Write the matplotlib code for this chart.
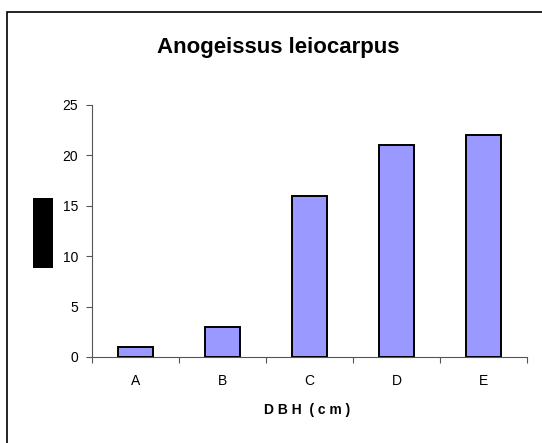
import matplotlib
matplotlib.use("Agg")
import matplotlib.pyplot as plt
from matplotlib.patches import Rectangle

categories = ["A", "B", "C", "D", "E"]
values = [1, 3, 16, 21, 22]
yticks = [0, 5, 10, 15, 20, 25]

plt.rcParams['font.family'] = ['Liberation Sans', 'DejaVu Sans']

W, H = 542, 443
fig = plt.figure(figsize=(W/100, H/100), dpi=100)
fig.patch.set_facecolor("white")

# outer chart border (cut off at right/bottom)
fig.add_artist(Rectangle((7/W, -0.05), 1.2, (H-12)/H + 0.05, transform=fig.transFigure,
                         fill=False, edgecolor="black", linewidth=1.2))

ax = fig.add_axes([92/W, 86/H, (527-92)/W, (357-105)/H])
x = list(range(len(categories)))
ax.bar(x, values, width=0.4, color="#9999FF", edgecolor="black", linewidth=1.4, zorder=3)
ax.set_xlim(-0.5, len(categories)-0.5)
ax.set_ylim(0, 25)
ax.set_yticks(yticks)
ax.set_xticks(x)
ax.set_xticklabels(categories)
ax.set_xticks([i + 0.5 for i in range(-1, len(categories))], minor=True)
ax.tick_params(axis='x', which='major', length=0, pad=12, labelsize=10)
ax.tick_params(axis='x', which='minor', length=4, width=0.8, color="#555555", direction='out')
ax.tick_params(axis='y', length=4, width=0.8, color="#555555", labelsize=10, pad=6)
for s in ["top", "right"]:
    ax.spines[s].set_visible(False)
for s in ["left", "bottom"]:
    ax.spines[s].set_color("#555555")
    ax.spines[s].set_linewidth(0.8)

fig.text(278/W, 1 - 48/H, "Anogeissus leiocarpus", ha="center", va="center",
         fontsize=16, fontweight="bold")
fig.text(307/W, 1 - 410/H, "D B H  ( c m )", ha="center", va="center",
         fontsize=10, fontweight="bold")

# redaction block on y label
fig.add_artist(Rectangle((33/W, 1 - 268/H), 20/W, 70/H, transform=fig.transFigure,
                         facecolor="black", edgecolor="none"))

fig.savefig("out.png", dpi=100)
